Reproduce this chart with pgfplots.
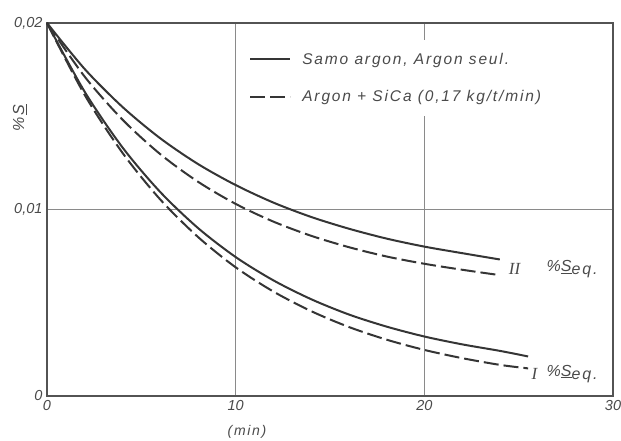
\documentclass[border=0pt]{standalone}
\usepackage{pgfplots}
\pgfplotsset{compat=1.18}
\usepackage{fontspec}
\setmainfont{Liberation Sans}
\newfontfamily\legfont[LetterSpace=12]{Liberation Sans}
\newfontfamily\romanfont{Liberation Serif}
\definecolor{ink}{HTML}{353535}
\definecolor{txt}{HTML}{4A4A4A}
\definecolor{gridc}{HTML}{8A8A8A}
\begin{document}
\begin{tikzpicture}
\useasboundingbox (-47pt,-45pt) rectangle (574pt,396pt);
\begin{axis}[
  at={(0pt,0pt)}, anchor=south west,
  scale only axis, width=566pt, height=373pt,
  xmin=0, xmax=30, ymin=0, ymax=0.02,
  scaled y ticks=false,
  clip=false,
  xtick={0,10,20,30}, xticklabels={0,10,20,30},
  ytick={0,0.01,0.02}, yticklabels={0,{0,01},{0,02}},
  grid=major, major grid style={gridc, line width=0.8pt},
  axis line style={ink!85, line width=1.3pt},
  major tick length=0pt,
  tick label style={font=\fontsize{14.5}{16}\selectfont\itshape, text=txt},
  xticklabel style={yshift=-1pt},
  yticklabel style={xshift=-1pt},
  legend cell align=left,
  legend image code/.code={\draw[#1] (0pt,0pt) -- (40pt,0pt);},
  legend style={at={(axis cs:10.5,0.0191)}, anchor=north west, draw=none, fill=white,
    font=\fontsize{15.5}{17}\selectfont\legfont\itshape, text=txt, row sep=21pt,
    column sep=9pt, inner xsep=4pt, inner ysep=11pt},
  every axis plot/.append style={ink, line width=2pt},
]
\addplot[smooth] coordinates {(0,0.02) (2,0.01753) (4,0.01550) (6,0.01382) (8,0.01244) (10,0.01131) (12,0.01037) (14,0.00960) (16,0.00897) (18,0.00844) (20,0.00801) (22,0.00766) (24,0.00732)};
\addlegendentry{Samo argon, Argon seul.}
\addplot[smooth, dash pattern=on 15pt off 5pt] coordinates {(0,0.02) (2,0.01712) (4,0.01482) (6,0.01297) (8,0.01149) (10,0.01030) (12,0.00935) (14,0.00859) (16,0.00798) (18,0.00748) (20,0.00709) (22,0.00677) (24,0.00648)};
\addlegendentry{Argon + SiCa (0,17 kg/t/min)}
\addplot[smooth, forget plot] coordinates {(0,0.02) (2,0.01631) (4,0.01333) (6,0.01094) (8,0.00901) (10,0.00745) (12,0.00620) (14,0.00519) (16,0.00437) (18,0.00372) (20,0.00319) (22,0.00277) (24,0.00242) (25.5,0.00212)};
\addplot[smooth, forget plot, dash pattern=on 15pt off 5pt] coordinates {(0,0.02) (2,0.01614) (4,0.01304) (6,0.01054) (8,0.00853) (10,0.00690) (12,0.00560) (14,0.00455) (16,0.00370) (18,0.00302) (20,0.00247) (22,0.00203) (24,0.00167) (25.5,0.00148)};
\node[anchor=west, text=txt, font=\fontsize{17}{19}\selectfont] at (axis cs:24.3,0.0068) {\romanfont\itshape II};
\node[anchor=west, text=txt, font=\fontsize{16}{18}\selectfont\legfont\itshape] at (axis cs:26.3,0.0068) {\%\underline{S}\raisebox{-3pt}{eq.}};
\node[anchor=west, text=txt, font=\fontsize{17}{19}\selectfont] at (axis cs:25.5,0.00120) {\romanfont\itshape I};
\node[anchor=west, text=txt, font=\fontsize{16}{18}\selectfont\legfont\itshape] at (axis cs:26.3,0.00120) {\%\underline{S}\raisebox{-3pt}{eq.}};
\node[rotate=90, text=txt, font=\fontsize{16}{18}\selectfont\itshape] at (axis cs:-1.45,0.0149) {\%\,\underline{S}};
\node[text=txt, font=\fontsize{14}{16}\selectfont\legfont\itshape] at (axis cs:10.6,-0.00193) {(min)};
\end{axis}
\end{tikzpicture}
\end{document}
